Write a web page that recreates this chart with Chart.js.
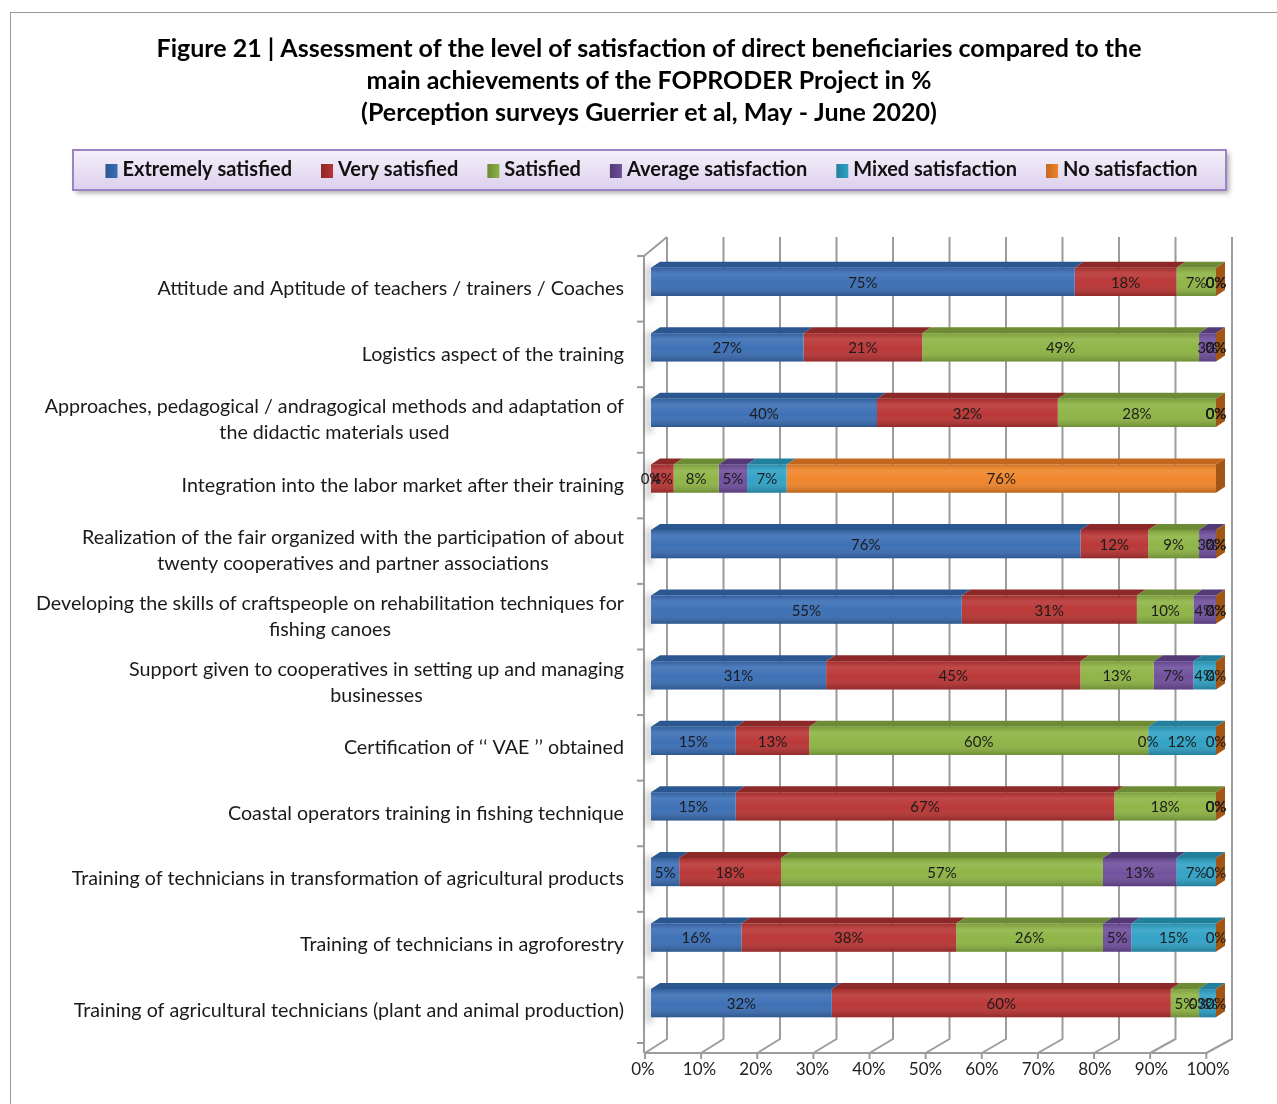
<!DOCTYPE html>
<html>
<head>
<meta charset="utf-8">
<title>Figure 21 – FOPRODER satisfaction</title>
<script src="https://cdn.jsdelivr.net/npm/chart.js@4.4.1/dist/chart.umd.min.js"></script>
<style>
  html, body { margin: 0; padding: 0; background: #fff; }
  canvas { display: block; }
</style>
</head>
<body>
<canvas id="chart" width="1277" height="1104"></canvas>
<script>
// ---- data -------------------------------------------------------------
const titleLines = [
  'Figure 21 | Assessment of the level of satisfaction of direct beneficiaries compared to the',
  'main achievements of the FOPRODER Project in %',
  '(Perception surveys Guerrier et al, May - June 2020)'
];

const categories = [
  'Attitude and Aptitude of teachers / trainers / Coaches',
  'Logistics aspect of the training',
  ['Approaches, pedagogical / andragogical methods and adaptation of', 'the didactic materials used'],
  'Integration into the labor market after their training',
  ['Realization of the fair organized with the participation of about', 'twenty cooperatives and partner associations'],
  ['Developing the skills of craftspeople on rehabilitation techniques for', 'fishing canoes'],
  ['Support given to cooperatives in setting up and managing', 'businesses'],
  'Certification of \u2018\u2018 VAE \u2019\u2019 obtained',
  'Coastal operators training in fishing technique',
  'Training of technicians in transformation of agricultural products',
  'Training of technicians in agroforestry',
  'Training of agricultural technicians (plant and animal production)'
];

const seriesNames = ['Extremely satisfied', 'Very satisfied', 'Satisfied',
                     'Average satisfaction', 'Mixed satisfaction', 'No satisfaction'];

const extremelySatisfied = [75, 27, 40, 0, 76, 55, 31, 15, 15, 5, 16, 32];
const verySatisfied      = [18, 21, 32, 4, 12, 31, 45, 13, 67, 18, 38, 60];
const satisfied          = [7, 49, 28, 8, 9, 10, 13, 60, 18, 57, 26, 5];
const averageSatisfied   = [0, 3, 0, 5, 3, 4, 7, 0, 0, 13, 5, 0];
const mixedSatisfied     = [0, 0, 0, 7, 0, 0, 4, 12, 0, 7, 15, 3];
const noSatisfaction     = [0, 0, 0, 76, 0, 0, 0, 0, 0, 0, 0, 0];

const axisTicks = [0, 10, 20, 30, 40, 50, 60, 70, 80, 90, 100];

// ---- styling ----------------------------------------------------------
const palette = [
  { front: '#3a6eb5', top: '#2b5791', side: '#244b7e' },
  { front: '#b93434', top: '#8d2828', side: '#7a2222' },
  { front: '#8db444', top: '#6c8b34', side: '#5d7a2c' },
  { front: '#6f4e9c', top: '#533a77', side: '#473266' },
  { front: '#2fa1c5', top: '#22809d', side: '#1d6f88' },
  { front: '#f08428', top: '#c4671c', side: '#a25616' }
];
const DEPTH_X = 9;
const DEPTH_Y = 6;
const FONT = 'Lato, "Open Sans", "DejaVu Sans", sans-serif';
const CATEGORY_FONT_SIZE = 19.7;
const CATEGORY_LINE_HEIGHT = 26;
const CATEGORY_GAP = 27;   // space between label block and bar start
const CATEGORY_SHIFT = 7;  // labels sit at the depth centre of the bars

const seriesValues = [extremelySatisfied, verySatisfied, satisfied,
                      averageSatisfied, mixedSatisfied, noSatisfaction];

// ---- plugins ----------------------------------------------------------
// page frame and white background
const framePlugin = {
  id: 'frame',
  beforeDraw(chart) {
    const { ctx, width, height } = chart;
    ctx.save();
    ctx.fillStyle = '#ffffff';
    ctx.fillRect(0, 0, width, height);
    ctx.strokeStyle = '#9a9a9a';
    ctx.lineWidth = 1;
    ctx.strokeRect(10.5, 12.5, width + 20, height + 20);
    ctx.restore();
  }
};

// 3-D walls: back gridlines, floor, left wall and category ticks
const wallPlugin = {
  id: 'wall',
  beforeDatasetsDraw(chart) {
    const { ctx, chartArea: a, scales: { x } } = chart;
    const backTop = a.top - 12;
    const backBottom = a.bottom + 3;
    const frontY = a.bottom + 17;
    const frontX = v => x.getPixelForValue(v) - 6 - v * 0.037;
    ctx.save();
    ctx.strokeStyle = '#9c9c9c';
    ctx.lineWidth = 2;
    ctx.lineJoin = 'round';
    axisTicks.forEach(v => {
      const bx = x.getPixelForValue(v) + 16;
      const fx = frontX(v);
      ctx.beginPath();
      ctx.moveTo(bx, backTop);
      ctx.lineTo(bx, backBottom);
      ctx.lineTo(fx, frontY);
      ctx.lineTo(fx, frontY + 6);
      ctx.stroke();
    });
    const f0 = frontX(0), f1 = frontX(100);
    ctx.beginPath();
    ctx.moveTo(f0, frontY);
    ctx.lineTo(f1, frontY);
    ctx.stroke();
    // left wall front edge and top edge
    ctx.beginPath();
    ctx.moveTo(f0 - 1, frontY);
    ctx.lineTo(f0 - 1, a.top + 7);
    ctx.lineTo(x.getPixelForValue(0) + 16, backTop);
    ctx.stroke();
    // category separators on the wall
    const band = (a.bottom - a.top) / categories.length;
    for (let i = 0; i <= categories.length; i++) {
      const yy = a.top + band * i + 7;
      ctx.beginPath();
      ctx.moveTo(f0 - 8, yy);
      ctx.lineTo(f0 - 1, yy);
      ctx.stroke();
    }
    // soft shadow of each bar on the left wall
    const meta = chart.getDatasetMeta(0);
    ctx.filter = 'blur(3px)';
    ctx.fillStyle = 'rgba(0,0,0,0.22)';
    meta.data.forEach(el => {
      const top = el.y - el.height / 2;
      ctx.fillRect(f0 + 1, top - 2, 6, el.height + 8);
    });
    ctx.filter = 'none';
    ctx.restore();
  }
};

// shading, top faces, end caps and value labels of the bars
const barFacesPlugin = {
  id: 'barFaces',
  afterDatasetsDraw(chart) {
    const ctx = chart.ctx;
    const metas = chart.data.datasets.map((d, i) => chart.getDatasetMeta(i));
    const last = metas.length - 1;
    ctx.save();
    categories.forEach((c, r) => {
      metas.forEach((meta, di) => {
        const el = meta.data[r];
        const left = Math.min(el.x, el.base), right = Math.max(el.x, el.base);
        const top = el.y - el.height / 2, bottom = el.y + el.height / 2;
        const col = palette[di];
        if (right - left > 0.5) {
          const g = ctx.createLinearGradient(0, top, 0, bottom);
          g.addColorStop(0, 'rgba(0,0,0,0.12)');
          g.addColorStop(0.22, 'rgba(255,255,255,0.10)');
          g.addColorStop(0.55, 'rgba(255,255,255,0.02)');
          g.addColorStop(1, 'rgba(0,0,0,0.22)');
          ctx.fillStyle = g;
          ctx.fillRect(left, top, right - left, el.height);
        }
        ctx.beginPath();
        ctx.moveTo(left, top);
        ctx.lineTo(left + DEPTH_X, top - DEPTH_Y);
        ctx.lineTo(right + DEPTH_X, top - DEPTH_Y);
        ctx.lineTo(right, top);
        ctx.closePath();
        ctx.fillStyle = col.top;
        if (right - left > 0.5 || di === last) ctx.fill();
        if (di === last) {
          ctx.beginPath();
          ctx.moveTo(right, top);
          ctx.lineTo(right + DEPTH_X, top - DEPTH_Y);
          ctx.lineTo(right + DEPTH_X, bottom - DEPTH_Y);
          ctx.lineTo(right, bottom);
          ctx.closePath();
          ctx.fillStyle = col.side;
          ctx.fill();
        }
      });
    });
    // value labels
    ctx.font = '15px ' + FONT;
    ctx.fillStyle = '#1c1c1c';
    ctx.textAlign = 'center';
    ctx.textBaseline = 'middle';
    metas.forEach((meta, di) => {
      meta.data.forEach((el, r) => {
        const v = chart.data.datasets[di].data[r];
        ctx.fillText(v + '%', (el.x + el.base) / 2, el.y + 1);
      });
    });
    ctx.restore();
  }
};

// category labels: block right-aligned to the axis, lines centred in the block
const categoryLabelPlugin = {
  id: 'categoryLabels',
  afterDraw(chart) {
    const { ctx, chartArea: a, scales: { y } } = chart;
    const right = a.left - CATEGORY_GAP;
    ctx.save();
    ctx.font = CATEGORY_FONT_SIZE + 'px ' + FONT;
    ctx.fillStyle = '#1a1a1a';
    ctx.textAlign = 'center';
    ctx.textBaseline = 'middle';
    chart.data.labels.forEach((lab, i) => {
      const lines = Array.isArray(lab) ? lab : [lab];
      const w = Math.max(...lines.map(l => ctx.measureText(l).width));
      const cx = right - w / 2;
      const cy = y.getPixelForTick(i) + CATEGORY_SHIFT;
      const y0 = cy - (lines.length - 1) * CATEGORY_LINE_HEIGHT / 2;
      lines.forEach((l, k) => ctx.fillText(l, cx, y0 + k * CATEGORY_LINE_HEIGHT));
    });
    ctx.restore();
  }
};

// legend panel
const legendPanelPlugin = {
  id: 'legendPanel',
  afterDraw(chart) {
    const ctx = chart.ctx;
    const L = 73, T = 150, W = 1153, H = 40;
    ctx.save();
    ctx.shadowColor = 'rgba(0,0,0,0.35)';
    ctx.shadowBlur = 5;
    ctx.shadowOffsetX = 3;
    ctx.shadowOffsetY = 3;
    const g = ctx.createLinearGradient(0, T, 0, T + H);
    g.addColorStop(0, '#f5f1fa');
    g.addColorStop(1, '#dccfed');
    ctx.fillStyle = g;
    ctx.fillRect(L, T, W, H);
    ctx.shadowColor = 'transparent';
    ctx.strokeStyle = '#9d83c4';
    ctx.lineWidth = 2;
    ctx.strokeRect(L, T, W, H);

    ctx.font = 'bold 20px ' + FONT;
    ctx.textBaseline = 'middle';
    ctx.textAlign = 'left';
    const boxW = 12, boxH = 14, boxGap = 5, itemGap = 29;
    const items = chart.data.datasets.map((d, i) => ({ text: d.label, w: ctx.measureText(d.label).width, col: palette[i] }));
    const total = items.reduce((s, it) => s + boxW + boxGap + it.w, 0) + itemGap * (items.length - 1);
    let xPos = (L + W / 2) + 2 - total / 2;
    const cy = T + H / 2;
    items.forEach(it => {
      const bg = ctx.createLinearGradient(xPos, 0, xPos + boxW, 0);
      bg.addColorStop(0, it.col.top);
      bg.addColorStop(1, it.col.front);
      ctx.fillStyle = bg;
      ctx.fillRect(xPos, cy - boxH / 2 + 1, boxW, boxH);
      ctx.fillStyle = '#111';
      ctx.fillText(it.text, xPos + boxW + boxGap, cy);
      xPos += boxW + boxGap + it.w + itemGap;
    });
    ctx.restore();
  }
};

// ---- chart ------------------------------------------------------------
function build() {
  new Chart(document.getElementById('chart'), {
    type: 'bar',
    data: {
      labels: categories,
      datasets: seriesNames.map((name, i) => ({
        label: name,
        data: seriesValues[i],
        backgroundColor: palette[i].front,
        borderWidth: 0,
        categoryPercentage: 1,
        barPercentage: 0.43
      }))
    },
    options: {
      indexAxis: 'y',
      responsive: false,
      animation: false,
      devicePixelRatio: 1,
      layout: { padding: { left: 21, right: 0, top: 12, bottom: 0 } },
      scales: {
        x: {
          type: 'linear',
          stacked: true,
          min: 0,
          max: 100,
          position: 'bottom',
          grid: { display: false },
          border: { display: false },
          afterBuildTicks: s => { s.ticks = axisTicks.map(v => ({ value: v })); },
          ticks: {
            callback: v => v + '%',
            font: { family: FONT, size: 17 },
            color: '#222',
            padding: 15,
            labelOffset: -8,
            maxRotation: 0,
            autoSkip: false
          },
          afterFit: s => { s.height = 68; }
        },
        y: {
          type: 'category',
          stacked: true,
          grid: { display: false },
          border: { display: false },
          ticks: { display: false, autoSkip: false },
          afterFit: s => { s.width = 630; }
        },
        yPad: {
          axis: 'y',
          type: 'linear',
          position: 'right',
          grid: { display: false },
          border: { display: false },
          ticks: { display: false },
          afterFit: s => { s.width = 61; }
        }
      },
      plugins: {
        legend: { display: false },
        tooltip: { enabled: false },
        title: {
          display: true,
          text: titleLines,
          color: '#000',
          font: { family: FONT, size: 25, weight: 'bold', lineHeight: 32 / 25 },
          padding: { top: 21, bottom: 120 }
        }
      }
    },
    plugins: [framePlugin, wallPlugin, barFacesPlugin, categoryLabelPlugin, legendPanelPlugin]
  });
}

Promise.all([
  document.fonts.load('19px Lato'),
  document.fonts.load('bold 24px Lato')
]).then(build, build);
</script>
</body>
</html>
